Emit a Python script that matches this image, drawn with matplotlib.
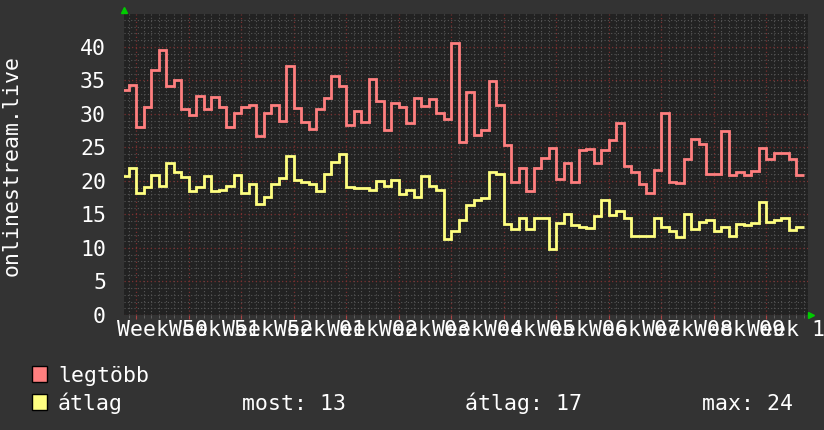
import numpy as np
import matplotlib
matplotlib.use("Agg")
import matplotlib.pyplot as plt
from matplotlib.ticker import MultipleLocator
from matplotlib.patches import Rectangle

# daily values, first interval starts two days before the Week 50 gridline
legtobb = [33.6, 34.3,
           28.1, 31.0, 36.5, 39.6, 34.1, 35.1, 30.8, 29.8, 32.7, 30.8, 32.5, 31.0, 28.1, 30.2,
           31.0, 31.3, 26.7, 30.1, 31.3, 28.9, 37.2, 30.9, 28.8, 27.7, 30.7, 32.4, 35.7, 34.1,
           28.4, 30.4, 28.8, 35.2, 31.9, 27.6, 31.6, 31.1, 28.7, 32.4, 31.2, 32.2, 30.1, 29.2,
           40.6, 25.8, 33.3, 26.9, 27.6, 34.9, 31.3, 25.4, 19.9, 22.0, 18.5, 22.0, 23.4, 24.9,
           20.3, 22.6, 19.8, 24.6, 24.7, 22.7, 24.6, 26.1, 28.7, 22.2, 21.3, 19.5, 18.2, 21.7, 30.2, 19.9,
           19.7, 23.2, 26.2, 25.5, 21.1, 21.1, 27.5, 20.9, 21.3, 20.9, 21.5, 24.9, 23.2, 24.2, 24.2, 23.2, 20.9]
atlag = [20.7, 22.0,
         18.2, 19.1, 20.9, 19.3, 22.7, 21.3, 20.6, 18.5, 19.1, 20.7, 18.5, 18.6, 19.3, 20.9,
         18.2, 19.5, 16.5, 17.6, 19.6, 20.4, 23.7, 20.1, 19.9, 19.6, 18.5, 21.1, 22.8, 24.0,
         19.1, 18.9, 18.9, 18.7, 20.0, 19.3, 20.1, 18.1, 18.6, 17.6, 20.7, 19.3, 18.6, 11.4,
         12.6, 14.2, 16.4, 17.2, 17.4, 21.3, 21.0, 13.5, 12.8, 14.4, 12.8, 14.4, 14.4, 9.9,
         13.7, 15.1, 13.4, 13.2, 13.0, 14.7, 17.1, 14.9, 15.5, 14.5, 11.8, 11.8, 11.8, 14.5, 13.1, 12.5,
         11.6, 15.0, 12.9, 13.9, 14.1, 12.5, 13.2, 11.8, 13.5, 13.4, 13.7, 16.9, 13.9, 14.2, 14.5, 12.7, 13.2]
weeks = ["50", "51", "52", "01", "02", "03", "04", "05", "06", "07", "08", "09", "10"]
yticks = [0, 5, 10, 15, 20, 25, 30, 35, 40]
stats = [("most:", 13), ("átlag:", 17), ("max:", 24)]

W, H = 824, 430
font = "DejaVu Sans Mono"
fs = 15.5
plt.rcParams['font.family'] = font

fig = plt.figure(figsize=(W / 100, H / 100), dpi=100)
fig.patch.set_facecolor('#333333')
ax = fig.add_axes([124 / W, 115 / H, (808 - 124) / W, (315 - 14) / H])
ax.set_facecolor('#222222')

edges = np.arange(-2, len(legtobb) - 1)
ax.stairs(legtobb, edges, baseline=None, color='#ff7f7f', lw=2, zorder=3)
ax.stairs(atlag, edges, baseline=None, color='#ffff80', lw=2, zorder=3)

ax.set_xlim(-1.6, 89.6)
ax.set_ylim(0, 44.9)

ax.xaxis.set_major_locator(MultipleLocator(7))
ax.xaxis.set_minor_locator(MultipleLocator(1))
ax.yaxis.set_major_locator(MultipleLocator(5))
ax.yaxis.set_minor_locator(MultipleLocator(1))
ax.grid(which='minor', color='#565656', ls=(0, (1, 2)), lw=0.8)
ax.grid(which='major', color='#7a3030', ls=(0, (1, 2)), lw=0.9)
ax.set_axisbelow(True)

ax.set_yticks(yticks)
ax.set_yticklabels([str(v) for v in yticks], color='white', fontsize=fs)
ax.tick_params(axis='y', which='both', length=0, pad=13)
ax.set_xticklabels([])
ax.tick_params(axis='x', which='major', length=3, color='#aa4444', direction='out')
ax.tick_params(axis='x', which='minor', length=2, color='#666666', direction='out')
for s in ax.spines.values():
    s.set_visible(False)

for i, wk in enumerate(weeks):
    ax.text(3.5 + 7 * i, -0.05, "Week " + wk, transform=ax.get_xaxis_transform(),
            ha='center', va='center', color='white', fontsize=fs, clip_on=False)

# rrdtool style axis arrows
fig.add_artist(plt.Line2D([124 / W], [1 - 10 / H], marker='^', color='#00cc00', ms=5, lw=0))
fig.add_artist(plt.Line2D([811 / W], [1 - 315 / H], marker='>', color='#00cc00', ms=5, lw=0))

fig.text(12 / W, 1 - 165 / H, "onlinestream.live", rotation=90, ha='center', va='center',
         color='white', fontsize=fs)

# legend
for y0, col, lab in [(366, '#ff7f7f', 'legtöbb'), (394, '#ffff80', 'átlag')]:
    fig.add_artist(Rectangle((32 / W, 1 - (y0 + 16) / H), 15 / W, 16 / H, facecolor=col,
                             edgecolor='black', lw=1, transform=fig.transFigure))
    fig.text(58 / W, 1 - (y0 + 16) / H, lab, ha='left', va='baseline', color='white', fontsize=fs)

for x0, (name, val) in zip([242, 465, 702], stats):
    fig.text(x0 / W, 1 - 410 / H, f"{name} {val}", ha='left', va='baseline', color='white', fontsize=fs)

fig.savefig("out.png", dpi=100, facecolor=fig.get_facecolor())
